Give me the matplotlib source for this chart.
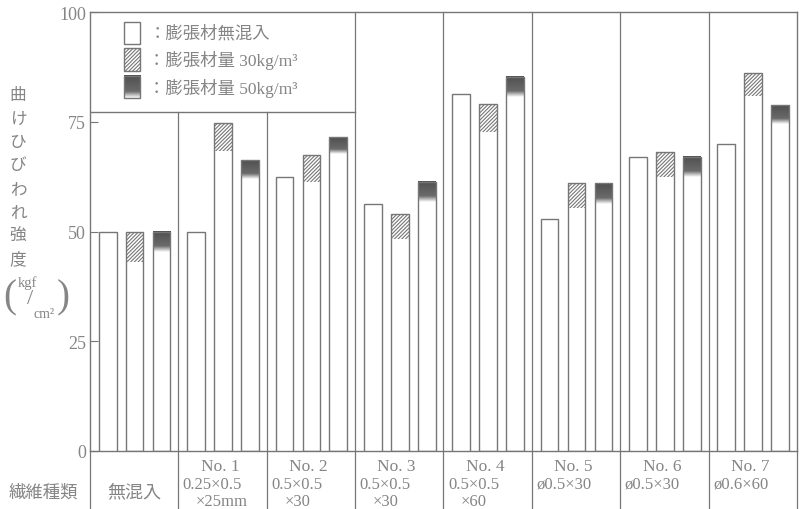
import numpy as np
import matplotlib
matplotlib.use("Agg")
import matplotlib.pyplot as plt
from matplotlib.patches import Rectangle
from matplotlib.colors import LinearSegmentedColormap

plt.rcParams['font.family'] = ['Liberation Serif', 'Noto Sans CJK JP', 'DejaVu Sans']
plt.rcParams['hatch.linewidth'] = 0.8

# ---------------- data ----------------
groups = ['無混入', 'No. 1', 'No. 2', 'No. 3', 'No. 4', 'No. 5', 'No. 6', 'No. 7']
group_sub1 = ['', '0.25×0.5', '0.5×0.5', '0.5×0.5', '0.5×0.5', 'ø0.5×30', 'ø0.5×30', 'ø0.6×60']
group_sub2 = ['', '×25mm', '×30', '×30', '×60', '', '', '']
# bar heights (total) for: no admixture, 30kg/m3, 50kg/m3
plain_top = [50.0, 50.0, 62.4, 56.3, 81.3, 52.8, 67.0, 69.9]
k30_top = [50.0, 74.7, 67.4, 54.0, 79.0, 61.0, 68.1, 86.1]
k30_low = [43.0, 68.3, 61.3, 48.3, 72.7, 55.4, 62.4, 80.9]
k50_top = [50.0, 66.3, 71.5, 61.3, 85.2, 61.0, 67.0, 78.8]
k50_low = [45.3, 62.0, 67.7, 56.7, 80.6, 56.3, 62.4, 74.5]
yticks = [0, 25, 50, 75, 100]
legend_labels = ['：膨張材無混入', '：膨張材量 30kg/m³', '：膨張材量 50kg/m³']
ylabel_chars = ['曲', 'け', 'ひ', 'び', 'わ', 'れ', '強', '度']

LINE = '#767676'
TEXT = '#858585'
DARK = '#505050'

W, H = 803, 510
fig = plt.figure(figsize=(W / 100, H / 100), dpi=100)
ax = fig.add_axes([90 / W, (H - 452) / H, 707 / W, 439 / H])
ax.set_xlim(0, 8)
ax.set_ylim(0, 100)

offs = [0.2, 0.505, 0.81]
bw = 0.2
HATCH = '/////////'
cmap = LinearSegmentedColormap.from_list('g', ['white', DARK])
grad = np.concatenate([np.linspace(1.0, 0.85, 70), np.linspace(0.85, 0, 30)]).reshape(-1, 1)

for i in range(len(groups)):
    x1, x2, x3 = i + offs[0], i + offs[1], i + offs[2]
    # plain bar
    ax.bar(x1, plain_top[i], bw, color='white', edgecolor=LINE, lw=1.0, zorder=4)
    # 30 kg bar
    ax.bar(x2, k30_top[i], bw, color='white', edgecolor='none', zorder=2)
    ax.bar(x2, k30_top[i] - k30_low[i], bw, bottom=k30_low[i], color='white',
           edgecolor=LINE, hatch=HATCH, lw=0, zorder=3)
    ax.bar(x2, k30_top[i], bw, fill=False, edgecolor=LINE, lw=1.0, zorder=4)
    # 50 kg bar
    ax.bar(x3, k50_top[i], bw, color='white', edgecolor='none', zorder=2)
    ax.imshow(grad, cmap=cmap, vmin=0, vmax=1, aspect='auto', origin='upper',
              extent=[x3 - bw / 2, x3 + bw / 2, k50_low[i], k50_top[i]], zorder=3,
              interpolation='bilinear')
    ax.bar(x3, k50_top[i], bw, fill=False, edgecolor=LINE, lw=1.0, zorder=4)

ax.set_xlim(0, 8)
ax.set_ylim(0, 100)
ax.set_aspect('auto')

# frame / spines
for s in ax.spines.values():
    s.set_color(LINE)
    s.set_linewidth(1.0)
ax.set_xticks([])
ax.set_yticks(yticks)
ax.set_yticklabels([str(t) for t in yticks])
ax.tick_params(axis='y', direction='in', length=6, color=LINE, labelcolor=TEXT,
               labelsize=13, pad=3)

# legend box and group dividers
leg_bottom = 77.2
ax.plot([0, 3], [leg_bottom, leg_bottom], color=LINE, lw=1.0, zorder=5)
for b in range(1, 8):
    top = leg_bottom if b in (1, 2) else 100
    ax.plot([b, b], [-14, top], color=LINE, lw=0.9, zorder=5, clip_on=False)
ax.plot([0, 0], [-14, 0], color=LINE, lw=0.9, clip_on=False)
ax.plot([8, 8], [-14, 0], color=LINE, lw=0.9, clip_on=False)

# legend entries
leg_y = [95.2, 89.1, 82.9]
ph = 2.6
for k, y in enumerate(leg_y):
    if k == 0:
        ax.add_patch(Rectangle((0.38, y - ph), 0.19, 2 * ph, facecolor='white',
                               edgecolor=LINE, lw=1.0, zorder=6))
    elif k == 1:
        ax.add_patch(Rectangle((0.38, y - ph), 0.19, 2 * ph, facecolor='white',
                               edgecolor=LINE, hatch=HATCH, lw=1.0, zorder=6))
    else:
        ax.imshow(grad, cmap=cmap, vmin=0, vmax=1, aspect='auto', origin='upper',
                  extent=[0.38, 0.57, y - ph, y + ph], zorder=6,
                  interpolation='bilinear')
        ax.add_patch(Rectangle((0.38, y - ph), 0.19, 2 * ph, fill=False,
                               edgecolor=LINE, lw=1.0, zorder=7))
    ax.text(0.66, y, legend_labels[k], color=TEXT, fontsize=12.5, va='center',
            ha='left', zorder=7)
ax.set_xlim(0, 8)
ax.set_ylim(0, 100)

# y label (vertical Japanese)
for j, ch in enumerate(ylabel_chars):
    fig.text(18 / W, 1 - (96 + j * 23.5) / H, ch, color=TEXT, fontsize=12,
             ha='center', va='center')
fig.text(3 / W, 1 - 298 / H, '(', color=TEXT, fontsize=28, ha='left', va='center')
fig.text(57 / W, 1 - 298 / H, ')', color=TEXT, fontsize=28, ha='left', va='center')
fig.text(18 / W, 1 - 283 / H, 'kgf', color=TEXT, fontsize=10.5, ha='left', va='center')
fig.text(30 / W, 1 - 300 / H, '/', color=TEXT, fontsize=16, ha='center', va='center')
fig.text(34 / W, 1 - 315 / H, 'cm²', color=TEXT, fontsize=10, ha='left', va='center')

# bottom table
fig.text(43 / W, 1 - 493 / H, '繊維種類', color=TEXT, fontsize=12.5, ha='center', va='center')
for i in range(len(groups)):
    if i == 0:
        ax.text(i + 0.5, -9.3, groups[i], color=TEXT, fontsize=13, ha='center',
                va='center', clip_on=False)
        continue
    ax.text(i + 0.47, -3.4, groups[i], color=TEXT, fontsize=12.5, ha='center',
            va='center', clip_on=False)
    ax.text(i + 0.05, -7.5, group_sub1[i], color=TEXT, fontsize=12, ha='left',
            va='center', clip_on=False)
    if group_sub2[i]:
        ax.text(i + 0.2, -11.5, group_sub2[i], color=TEXT, fontsize=12, ha='left',
                va='center', clip_on=False)

fig.savefig('out.png', dpi=100, facecolor='white')
